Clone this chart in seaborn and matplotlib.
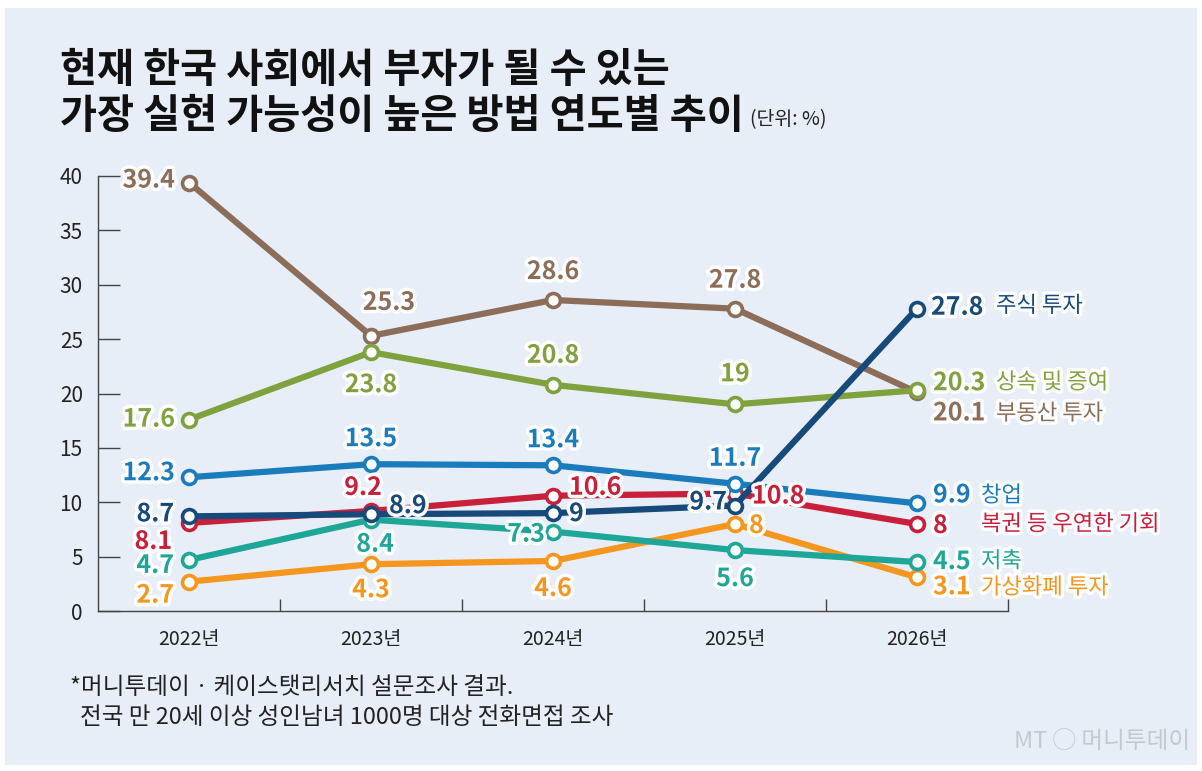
import numpy as np
import pandas as pd
import matplotlib
matplotlib.use("Agg")
import matplotlib.pyplot as plt
import matplotlib.patheffects as pe
from matplotlib.patches import Rectangle
import seaborn as sns

# data
years = ["2022년", "2023년", "2024년", "2025년", "2026년"]
series_names = ["부동산 투자", "상속 및 증여", "가상화폐 투자", "저축",
                "복권 등 우연한 기회", "창업", "주식 투자"]
real_estate = [39.4, 25.3, 28.6, 27.8, 20.1]
inheritance = [17.6, 23.8, 20.8, 19, 20.3]
crypto = [2.7, 4.3, 4.6, 8, 3.1]
savings = [4.7, 8.4, 7.3, 5.6, 4.5]
lottery = [8.1, 9.2, 10.6, 10.8, 8]
startup = [12.3, 13.5, 13.4, 11.7, 9.9]
stocks = [8.7, 8.9, 9, 9.7, 27.8]
values = [real_estate, inheritance, crypto, savings, lottery, startup, stocks]

colors = {
    "부동산 투자": "#8c6d5a",
    "상속 및 증여": "#7fa23e",
    "가상화폐 투자": "#f5961f",
    "저축": "#1ea697",
    "복권 등 우연한 기회": "#c81f3b",
    "창업": "#1a7cbd",
    "주식 투자": "#17497a",
}

# label offsets in pixels (dx, dy, ha) for each point
value_offsets = {
    "부동산 투자": [(-14, 2, "right"), (18, 33, "center"), (0, 28, "center"), (0, 28, "center"), (16, -21, "left")],
    "상속 및 증여": [(-14, 0, "right"), (0, -33, "center"), (0, 29, "center"), (0, 30, "center"), (16, 7, "left")],
    "가상화폐 투자": [(-15, -14, "right"), (0, -26, "center"), (0, -28, "center"), (14, -2, "left"), (16, -10, "left")],
    "저축": [(-15, -6, "right"), (4, -25, "center"), (-8, -3, "right"), (0, -29, "center"), (16, 0, "left")],
    "복권 등 우연한 기회": [(-17, -19, "right"), (-8, 23, "center"), (16, 8, "left"), (17, -3, "left"), (16, -2, "left")],
    "창업": [(-14, 4, "right"), (0, 25, "center"), (0, 25, "center"), (0, 25, "center"), (16, 8, "left")],
    "주식 투자": [(-15, 2, "right"), (18, 8, "left"), (16, -1, "left"), (-8, 3, "right"), (14, 1, "left")],
}
name_offsets = {
    "부동산 투자": (79, -21),
    "상속 및 증여": (79, 8),
    "가상화폐 투자": (64, -10),
    "저축": (64, 1),
    "복권 등 우연한 기회": (64, 0),
    "창업": (64, 8),
    "주식 투자": (79, 3),
}

rows = []
for name, vals in zip(series_names, values):
    for i, v in enumerate(vals):
        rows.append({"series": name, "x": i, "value": v})
df = pd.DataFrame(rows)

sns.set_style("ticks")
plt.rcParams["font.family"] = ["Noto Sans CJK KR", "DejaVu Sans"]
plt.rcParams["axes.unicode_minus"] = False

fig = plt.figure(figsize=(12.02, 7.71), dpi=100)
fig.patch.set_facecolor("white")
panel = "#e8eef7"
fig.patches.append(Rectangle((5 / 1202, 1 - 765 / 771), 1192 / 1202, 757 / 771,
                             transform=fig.transFigure, facecolor=panel,
                             edgecolor="none", zorder=-10))

ax = fig.add_axes([98 / 1202, 160 / 771, 910 / 1202, 435 / 771])
ax.set_facecolor("none")
ax.set_zorder(2)

sns.lineplot(data=df, x="x", y="value", hue="series", hue_order=series_names,
             palette=colors, marker="o", markersize=10, markerfacecolor="white",
             markeredgewidth=2.6, linewidth=4.5, legend=False, ax=ax,
             clip_on=False)
# seaborn paints marker edges white; give them the line colour
for line in ax.lines:
    line.set_markeredgecolor(line.get_color())

ax.set_xlim(-0.5, 4.5)
ax.set_ylim(0, 40)
ax.set_xlabel("")
ax.set_ylabel("")

ax.set_yticks(np.arange(0, 41, 5))
ax.set_yticklabels([str(t) for t in range(0, 41, 5)], fontsize=15, color="#222222")
ax.set_xticks(range(len(years)))
ax.set_xticklabels(years, fontsize=14, color="#222222")
ax.set_xticks(np.arange(0.5, 5, 1), minor=True)
ax.tick_params(axis="y", direction="in", length=16, width=1, color="#444444", pad=11)
ax.tick_params(axis="x", which="major", length=0, pad=13)
ax.tick_params(axis="x", which="minor", direction="in", length=9, width=1, color="#444444")
for s in ["top", "right"]:
    ax.spines[s].set_visible(False)
for s in ["left", "bottom"]:
    ax.spines[s].set_color("#444444")
    ax.spines[s].set_linewidth(1)

stroke = [pe.withStroke(linewidth=5, foreground="white")]
for name, vals in zip(series_names, values):
    c = colors[name]
    for i, v in enumerate(vals):
        dx, dy, ha = value_offsets[name][i]
        ax.annotate(f"{v:g}", (i, v), xytext=(dx, dy), textcoords="offset pixels",
                    ha=ha, va="center", fontsize=18, fontweight="bold", color=c,
                    path_effects=stroke, zorder=5, annotation_clip=False)
    ndx, ndy = name_offsets[name]
    ax.annotate(name, (4, vals[-1]), xytext=(ndx, ndy), textcoords="offset pixels",
                ha="left", va="center", fontsize=16, color=c,
                path_effects=stroke, zorder=5, annotation_clip=False)

# title
fig.text(60 / 1202, 1 - 70 / 771, "현재 한국 사회에서 부자가 될 수 있는",
         fontsize=29, fontweight="bold", color="#111111", va="center", ha="left")
fig.text(60 / 1202, 1 - 117 / 771, "가장 실현 가능성이 높은 방법 연도별 추이",
         fontsize=29, fontweight="bold", color="#111111", va="center", ha="left")
fig.text(750 / 1202, 1 - 120 / 771, "(단위: %)", fontsize=14, color="#222222",
         va="center", ha="left")

# footnote
fig.text(70 / 1202, 1 - 688 / 771, "*머니투데이 · 케이스탯리서치 설문조사 결과.",
         fontsize=17, color="#222222", va="center", ha="left")
fig.text(80 / 1202, 1 - 717 / 771, "전국 만 20세 이상 성인남녀 1000명 대상 전화면접 조사",
         fontsize=17, color="#222222", va="center", ha="left")

# watermark
fig.text(1190 / 1202, 1 - 742 / 771, "MT ◯ 머니투데이", fontsize=17, color="#c4c8cf",
         va="center", ha="right", style="italic")

fig.savefig("out.png", dpi=100, facecolor=fig.get_facecolor())
